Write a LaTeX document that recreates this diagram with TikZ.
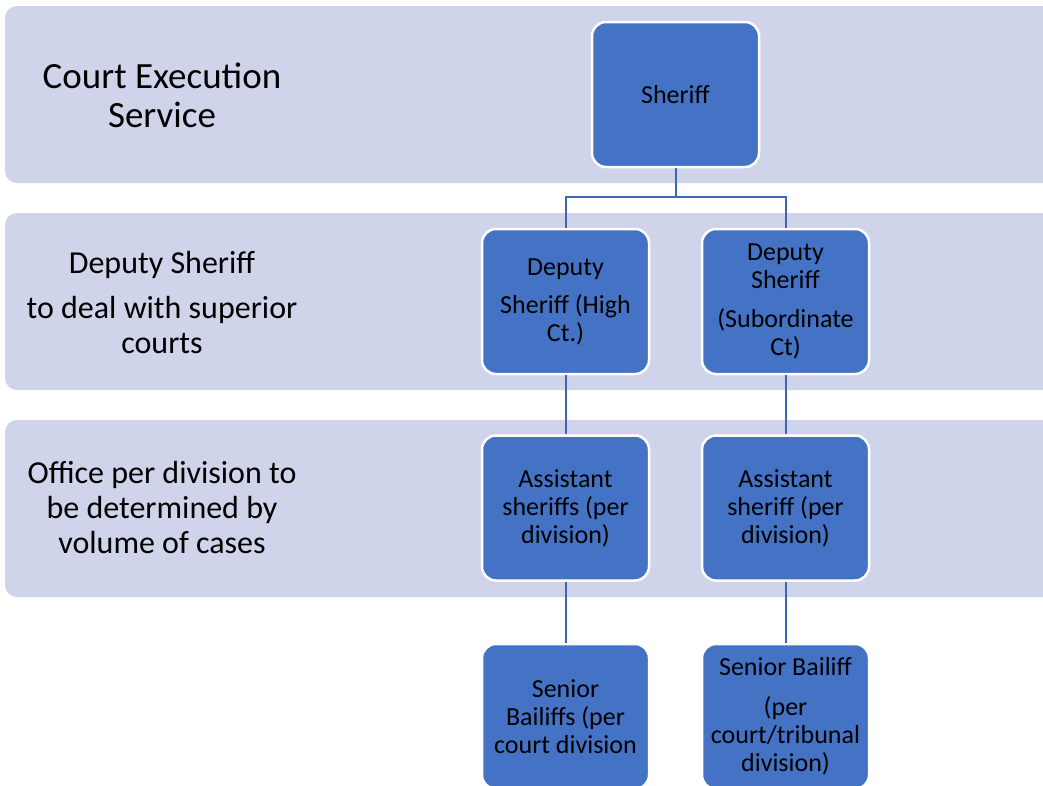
\documentclass[tikz,border=0pt]{standalone}
\usepackage{fontspec}
\setmainfont{Carlito}
\definecolor{bandfill}{RGB}{207,212,234}
\definecolor{boxfill}{RGB}{68,114,196}
\definecolor{linkcol}{RGB}{60,103,177}
\begin{document}
\begin{tikzpicture}[x=1pt,y=-1pt,
  band/.style={fill=bandfill,draw=none,rounded corners=12pt},
  orgbox/.style={rectangle,fill=boxfill,draw=white,line width=2.5pt,rounded corners=14pt,
    minimum width=167pt,minimum height=145pt,align=center,inner sep=2pt,
    font=\fontsize{26}{28}\selectfont,text=black},
  lefttext/.style={align=center,text=black,inner sep=0pt},
  link/.style={draw=linkcol,line width=2pt}
]
\clip (0,0) rectangle (1043,785);
\fill[white] (0,0) rectangle (1043,785);
% bands
\path[band] (5,6) rectangle (1080,183);
\path[band] (5,213) rectangle (1080,390);
\path[band] (5,420) rectangle (1080,597);
% left labels
\node[lefttext,font=\fontsize{37}{39}\selectfont] (l1) at (162,95) {Court Execution\\Service};
\node[lefttext,font=\fontsize{32}{35}\selectfont] (l2) at (162,302) {Deputy Sheriff\\[10pt]to deal with superior\\courts};
\node[lefttext,font=\fontsize{32}{35}\selectfont] (l3) at (162,507) {Office per division to\\be determined by\\volume of cases};
% boxes
\node[orgbox] (sheriff) at (675.5,94.5) {Sheriff};
\node[orgbox] (dl) at (565.5,301.5) {Deputy\\[10pt]Sheriff (High\\Ct.)};
\node[orgbox] (dr) at (785.5,301.5) {Deputy\\Sheriff\\[11pt](Subordinate\\Ct)};
\node[orgbox] (al) at (565.5,508) {Assistant\\sheriffs (per\\division)};
\node[orgbox] (ar) at (785.5,508) {Assistant\\sheriff (per\\division)};
\node[orgbox] (sl) at (565.5,716.5) {Senior\\Bailiffs (per\\court division};
\node[orgbox] (sr) at (785.5,716.5) {Senior Bailiff\\[12pt](per\\court/tribunal\\division)};
% connectors
\coordinate (j) at (675.5,197);
\draw[link] (sheriff.south) -- (j);
\draw[link] (dl.north) |- (j) -| (dr.north);
\draw[link] (dl.south) -- (al.north);
\draw[link] (dr.south) -- (ar.north);
\draw[link] (al.south) -- (sl.north);
\draw[link] (ar.south) -- (sr.north);
\end{tikzpicture}
\end{document}
